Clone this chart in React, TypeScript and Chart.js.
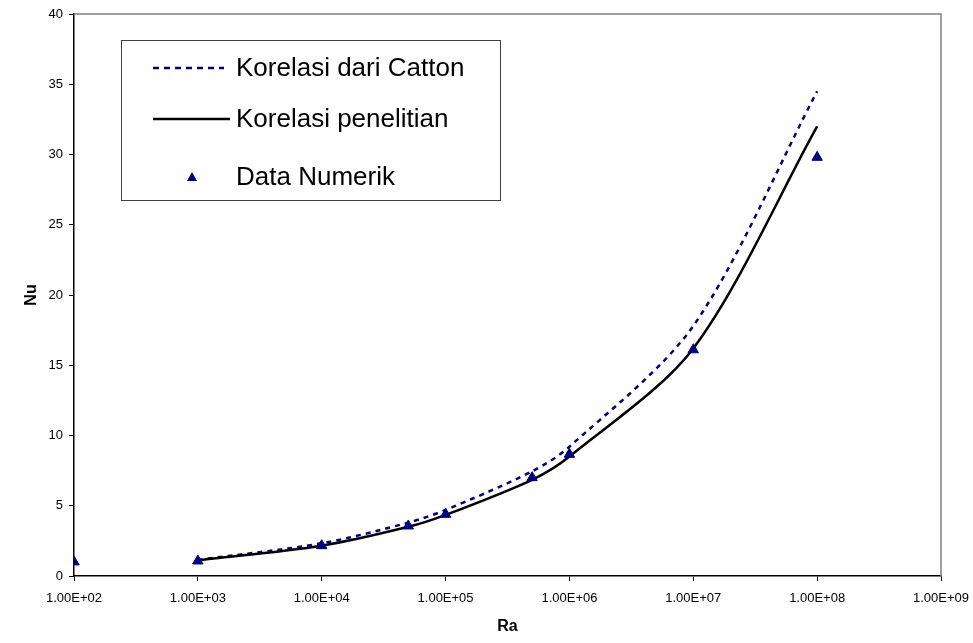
import React, { useEffect, useRef } from 'react';
import { Chart, registerables } from 'chart.js';

Chart.register(...registerables);

// Rayleigh number positions
const raNumerik = [1e2, 1e3, 1e4, 5e4, 1e5, 5e5, 1e6, 1e7, 1e8];
const nuNumerik = [1.0, 1.07, 2.16, 3.56, 4.39, 7.0, 8.66, 16.1, 29.8];

const raKorelasi = [1e3, 1e4, 5e4, 1e5, 5e5, 1e6, 1e7, 1e8];
const nuCatton = [1.15, 2.33, 3.8, 4.7, 7.45, 9.2, 17.8, 34.5];
const nuPenelitian = [1.12, 2.16, 3.5, 4.35, 6.85, 8.5, 16.2, 32.0];

const xTickValues = [1e2, 1e3, 1e4, 1e5, 1e6, 1e7, 1e8, 1e9];
const legendLabels = ['Korelasi dari Catton', 'Korelasi penelitian', 'Data Numerik'];

const NAVY = '#000080';
const FONT = '"Liberation Sans", Arial, sans-serif';

function fmtSci(v: number): string {
  const s = Number(v).toExponential(2); // e.g. 1.00e+2
  const [m, e] = s.split('e');
  const sign = e[0] === '-' ? '-' : '+';
  const digits = e.replace(/^[+-]/, '').padStart(2, '0');
  return `${m}E${sign}${digits}`;
}

const framePlugin = {
  id: 'frame',
  beforeDatasetsDraw(chart: any) {
    const { ctx, chartArea: a } = chart;
    ctx.save();
    ctx.strokeStyle = '#808080';
    ctx.lineWidth = 1.5;
    ctx.beginPath();
    ctx.moveTo(a.left, a.top);
    ctx.lineTo(a.right, a.top);
    ctx.lineTo(a.right, a.bottom);
    ctx.stroke();
    ctx.restore();
  },
};

const legendPlugin = {
  id: 'customLegend',
  afterDraw(chart: any) {
    const { ctx } = chart;
    ctx.save();
    const bx = 121.5, by = 40.5, bw = 379, bh = 160;
    ctx.fillStyle = '#ffffff';
    ctx.fillRect(bx, by, bw, bh);
    ctx.strokeStyle = '#404040';
    ctx.lineWidth = 1;
    ctx.strokeRect(bx, by, bw, bh);

    const rows = [68, 119, 177];
    const textX = 236;
    ctx.font = `26px ${FONT}`;
    ctx.fillStyle = '#000000';
    ctx.textBaseline = 'middle';
    ctx.textAlign = 'left';

    // row 1: dashed
    ctx.strokeStyle = NAVY;
    ctx.lineWidth = 2.5;
    ctx.setLineDash([6, 5]);
    ctx.beginPath();
    ctx.moveTo(153, rows[0]);
    ctx.lineTo(224, rows[0]);
    ctx.stroke();
    ctx.setLineDash([]);
    ctx.fillText(legendLabels[0], textX, rows[0] + 1);

    // row 2: solid
    ctx.strokeStyle = '#000000';
    ctx.lineWidth = 2.5;
    ctx.beginPath();
    ctx.moveTo(153, rows[1]);
    ctx.lineTo(230, rows[1]);
    ctx.stroke();
    ctx.fillText(legendLabels[1], textX, rows[1] + 1);

    // row 3: triangle
    ctx.fillStyle = NAVY;
    ctx.beginPath();
    ctx.moveTo(192, rows[2] - 5);
    ctx.lineTo(197, rows[2] + 4);
    ctx.lineTo(187, rows[2] + 4);
    ctx.closePath();
    ctx.fill();
    ctx.fillStyle = '#000000';
    ctx.fillText(legendLabels[2], textX, rows[2] + 1);
    ctx.restore();
  },
};

export default function App() {
  const ref = useRef<HTMLCanvasElement | null>(null);

  useEffect(() => {
    if (!ref.current) return;
    const chart = new Chart(ref.current, {
      type: 'scatter',
      data: {
        datasets: [
          {
            label: legendLabels[2],
            data: raNumerik.map((x, i) => ({ x, y: nuNumerik[i] })),
            showLine: false,
            pointStyle: 'triangle',
            pointRadius: 6,
            pointHoverRadius: 6,
            backgroundColor: NAVY,
            borderColor: NAVY,
            borderWidth: 1,
            order: 0,
          },
          {
            label: legendLabels[1],
            data: raKorelasi.map((x, i) => ({ x, y: nuPenelitian[i] })),
            showLine: true,
            pointRadius: 0,
            borderColor: '#000000',
            borderWidth: 2.5,
            tension: 0.3,
            order: 1,
          },
          {
            label: legendLabels[0],
            data: raKorelasi.map((x, i) => ({ x, y: nuCatton[i] })),
            showLine: true,
            pointRadius: 0,
            borderColor: NAVY,
            borderWidth: 2.5,
            borderDash: [5, 5],
            tension: 0.3,
            order: 2,
          },
        ],
      },
      options: {
        animation: false,
        responsive: true,
        maintainAspectRatio: false,
        layout: { padding: { left: 0, right: 32, top: 14, bottom: 0 } },
        plugins: {
          legend: { display: false },
          tooltip: { enabled: false },
        },
        scales: {
          x: {
            type: 'logarithmic',
            min: 1e2,
            max: 1e9,
            afterBuildTicks: (scale: any) => {
              scale.ticks = xTickValues.map((v) => ({ value: v }));
            },
            afterFit: (scale: any) => {
              scale.height = 67;
              scale.paddingLeft = 0;
              scale.paddingRight = 0;
            },
            grid: {
              display: true,
              drawOnChartArea: false,
              drawTicks: true,
              tickLength: 5,
              color: '#000000',
              lineWidth: 1,
            },
            border: { display: true, color: '#000000', width: 1.5 },
            ticks: {
              autoSkip: false,
              maxRotation: 0,
              minRotation: 0,
              padding: 10,
              color: '#000000',
              font: { family: FONT, size: 13 },
              callback: (v: any) => fmtSci(Number(v)),
            },
            title: {
              display: true,
              text: 'Ra',
              color: '#000000',
              font: { family: FONT, size: 16, weight: 'bold' },
              padding: { top: 0, bottom: 7 },
            },
          },
          y: {
            type: 'linear',
            min: 0,
            max: 40,
            afterFit: (scale: any) => {
              scale.width = 74;
              scale.paddingTop = 0;
              scale.paddingBottom = 0;
            },
            grid: {
              display: true,
              drawOnChartArea: false,
              drawTicks: true,
              tickLength: 5,
              color: '#000000',
              lineWidth: 1,
            },
            border: { display: true, color: '#000000', width: 1.5 },
            ticks: {
              stepSize: 5,
              padding: 6,
              color: '#000000',
              font: { family: FONT, size: 13 },
            },
            title: {
              display: true,
              text: 'Nu',
              color: '#000000',
              font: { family: FONT, size: 16, weight: 'bold' },
              padding: { top: 22, bottom: 0 },
            },
          },
        },
      },
      plugins: [framePlugin, legendPlugin],
    });
    return () => chart.destroy();
  }, []);

  return (
    <div style={{ position: 'fixed', left: 0, top: 0, width: 973, height: 643, background: '#ffffff' }}>
      <canvas ref={ref} />
    </div>
  );
}
